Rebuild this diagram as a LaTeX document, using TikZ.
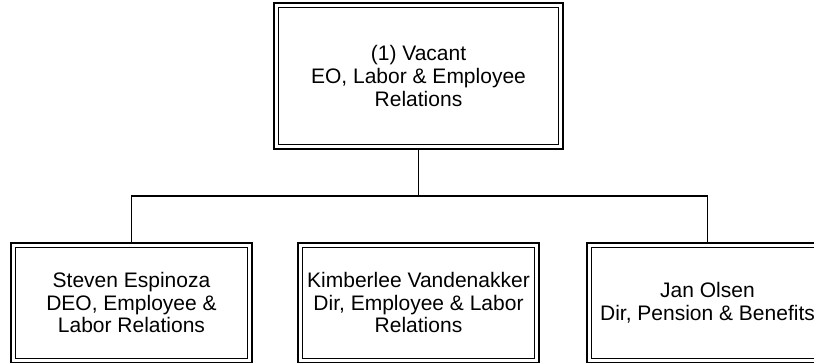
\documentclass[tikz,border=0pt]{standalone}
\usepackage{fontspec}
\setmainfont{Liberation Sans}
\begin{document}
\begin{tikzpicture}[x=1pt,y=1pt,
    posbox/.style={draw,line width=1.8pt,inner sep=0pt,outer sep=0pt,
        minimum width=241pt,minimum height=119.5pt,align=center,
        font=\fontsize{21pt}{22.7pt}\selectfont},
    innerframe/.style={line width=0.9pt},
    link/.style={line width=1.5pt}]

\def\BUSLEVEL{-196}
	\fill[white] (0,0) rectangle (814,-364);
	\useasboundingbox (0,0) rectangle (814,-364);
	\node[posbox,minimum width=289pt,minimum height=145.4pt] (vacant) at (418.5,-76) {(1) Vacant\\EO, Labor \& Employee\\Relations};
	\node[posbox] (espinoza) at (131.5,-302.75) {Steven Espinoza\\DEO, Employee \&\\Labor Relations};
	\node[posbox] (vandenakker) at (418.5,-302.75) {Kimberlee Vandenakker\\Dir, Employee \& Labor\\Relations};
	\node[posbox] (olsen) at (707.5,-302.75) {Jan Olsen\\Dir, Pension \& Benefits};
	\foreach \n in {vacant,espinoza,vandenakker,olsen}
		\draw[innerframe] ([shift={(4.5,-4.5)}]\n.north west) rectangle ([shift={(-4.5,4.5)}]\n.south east);
	\coordinate (bus) at (418.5,\BUSLEVEL);
	\draw[link] (vacant.south) -- (bus);
	\draw[link] (espinoza.north) |- (bus) -| (olsen.north);

          \end{tikzpicture}
\end{document}
